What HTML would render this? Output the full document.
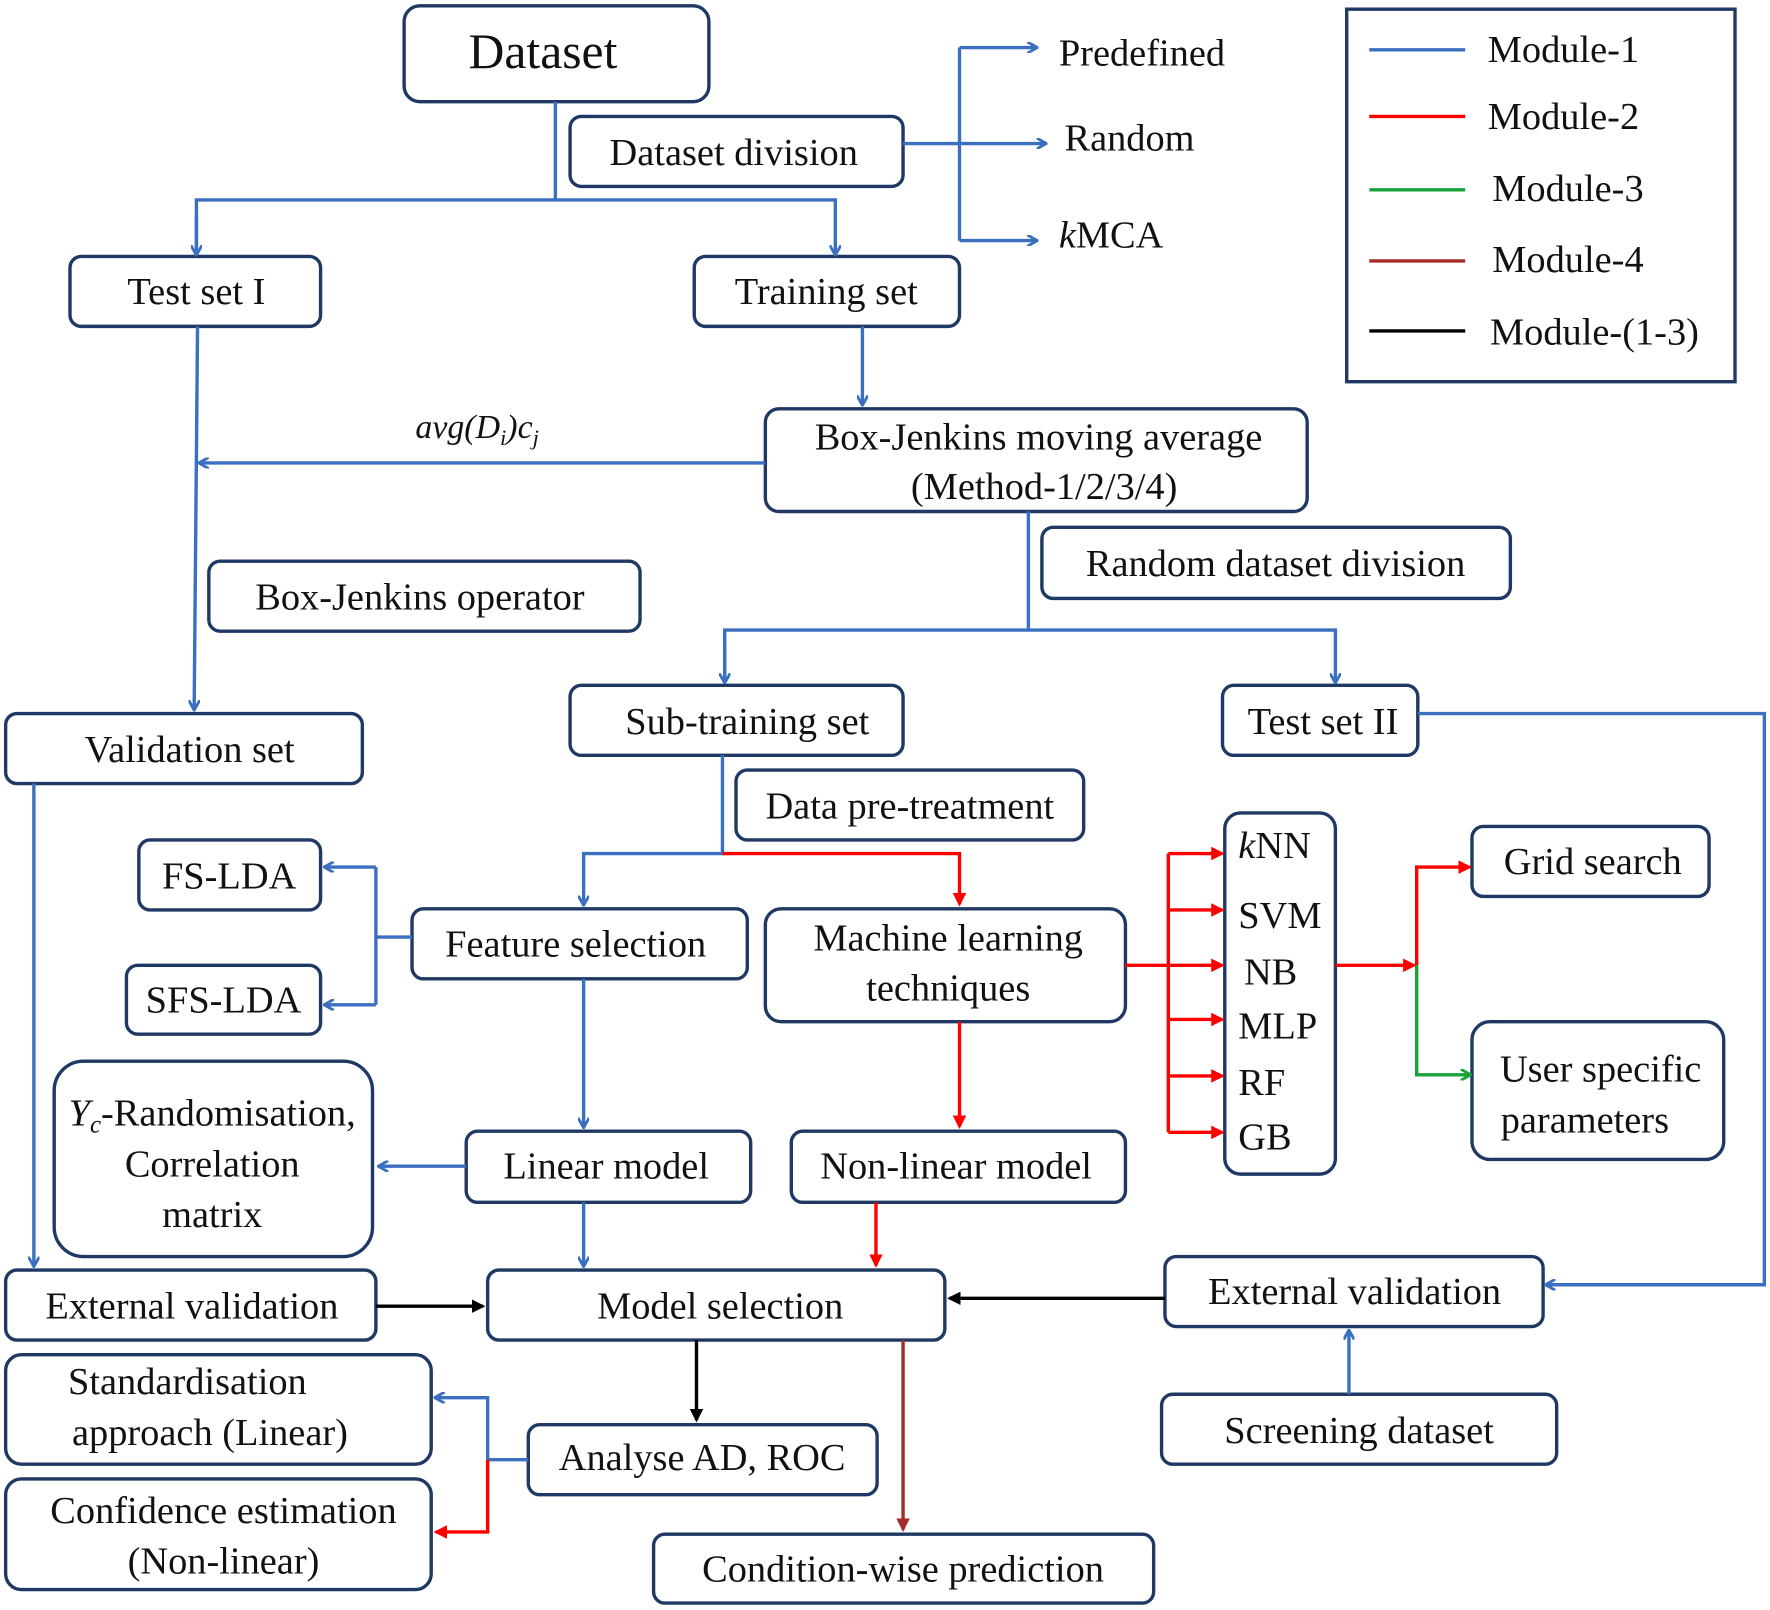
<!DOCTYPE html>
<html><head><meta charset="utf-8"><style>
html,body{margin:0;padding:0;background:#fff;}
svg{display:block;}
text{font-family:"Liberation Serif",serif;fill:#111;}
</style></head><body>
<svg width="1770" height="1610" viewBox="0 0 1568 1426" xmlns="http://www.w3.org/2000/svg">
<defs>
<marker id="ab" markerWidth="10" markerHeight="10" refX="8" refY="5" orient="auto" markerUnits="userSpaceOnUse"><path d="M0,0 L9,5 L0,10" fill="none" stroke="#3b6fc0" stroke-width="2.5"/></marker>
<marker id="ar" markerWidth="12" markerHeight="12" refX="10" refY="6" orient="auto" markerUnits="userSpaceOnUse"><path d="M0,0 L12,6 L0,12 Z" fill="#f00"/></marker>
<marker id="ag" markerWidth="10" markerHeight="10" refX="8" refY="5" orient="auto" markerUnits="userSpaceOnUse"><path d="M0,0 L9,5 L0,10" fill="none" stroke="#1aa33a" stroke-width="2.5"/></marker>
<marker id="ak" markerWidth="12" markerHeight="12" refX="10" refY="6" orient="auto" markerUnits="userSpaceOnUse"><path d="M0,0 L12,6 L0,12 Z" fill="#000"/></marker>
<marker id="abr" markerWidth="12" markerHeight="12" refX="10" refY="6" orient="auto" markerUnits="userSpaceOnUse"><path d="M0,0 L12,6 L0,12 Z" fill="#a52a2a"/></marker>
</defs>
<g fill="none" stroke="#1f3864" stroke-width="3">
<rect x="358" y="5" width="270" height="85" rx="14"/>
<rect x="505" y="103" width="295" height="62" rx="10"/>
<rect x="1193" y="8" width="344" height="330"/>
<rect x="62" y="227" width="222" height="62" rx="10"/>
<rect x="615" y="227" width="235" height="62" rx="10"/>
<rect x="678" y="362" width="480" height="91" rx="12"/>
<rect x="185" y="497" width="382" height="62" rx="10"/>
<rect x="5" y="632" width="316" height="62" rx="10"/>
<rect x="923" y="467" width="415" height="63" rx="10"/>
<rect x="505" y="607" width="295" height="62" rx="10"/>
<rect x="1083" y="607" width="173" height="62" rx="10"/>
<rect x="652" y="682" width="308" height="62" rx="10"/>
<rect x="365" y="805" width="297" height="62" rx="10"/>
<rect x="123" y="744" width="161" height="62" rx="10"/>
<rect x="112" y="855" width="172" height="61" rx="10"/>
<rect x="678" y="805" width="319" height="100" rx="14"/>
<rect x="1085" y="720" width="98" height="320" rx="14"/>
<rect x="1304" y="732" width="210" height="62" rx="10"/>
<rect x="1304" y="905" width="223" height="122" rx="16"/>
<rect x="413" y="1002" width="252" height="63" rx="10"/>
<rect x="48" y="940" width="282" height="173" rx="26"/>
<rect x="701" y="1002" width="296" height="63" rx="10"/>
<rect x="432" y="1125" width="405" height="62" rx="10"/>
<rect x="5" y="1125" width="328" height="62" rx="10"/>
<rect x="1032" y="1113" width="335" height="62" rx="10"/>
<rect x="1029" y="1235" width="350" height="62" rx="10"/>
<rect x="468" y="1262" width="309" height="62" rx="10"/>
<rect x="5" y="1200" width="377" height="97" rx="14"/>
<rect x="5" y="1310" width="377" height="98" rx="14"/>
<rect x="579" y="1359" width="443" height="61" rx="10"/>
</g>
<g fill="none" stroke="#3b6fc0" stroke-width="3">
<line x1="1213" y1="44" x2="1298" y2="44"/>
<polyline points="492,90 492,177"/>
<polyline points="174,225 174,177 740,177 740,225" marker-end="url(#ab)"/>
<line x1="174" y1="190" x2="174" y2="225" marker-end="url(#ab)"/>
<polyline points="850,42 918,42" marker-end="url(#ab)"/>
<line x1="850" y1="42" x2="850" y2="213"/>
<line x1="850" y1="213" x2="918" y2="213" marker-end="url(#ab)"/>
<line x1="800" y1="127" x2="926" y2="127" marker-end="url(#ab)"/>
<line x1="764" y1="289" x2="764" y2="358" marker-end="url(#ab)"/>
<line x1="678" y1="410" x2="177" y2="410" marker-end="url(#ab)"/>
<line x1="175" y1="289" x2="172" y2="628" marker-end="url(#ab)"/>
<line x1="911" y1="453" x2="911" y2="558"/>
<polyline points="642,604 642,558 1183,558 1183,604" marker-end="url(#ab)"/>
<line x1="642" y1="570" x2="642" y2="604" marker-end="url(#ab)"/>
<polyline points="1256,632 1563,632 1563,1138 1370,1138" marker-end="url(#ab)"/>
<polyline points="640,669 640,756 517,756 517,801" marker-end="url(#ab)"/>
<line x1="365" y1="830" x2="333" y2="830"/>
<polyline points="333,768 333,890"/>
<line x1="333" y1="768" x2="288" y2="768" marker-end="url(#ab)"/>
<line x1="333" y1="890" x2="288" y2="890" marker-end="url(#ab)"/>
<line x1="517" y1="867" x2="517" y2="998" marker-end="url(#ab)"/>
<line x1="413" y1="1033" x2="336" y2="1033" marker-end="url(#ab)"/>
<line x1="517" y1="1065" x2="517" y2="1121" marker-end="url(#ab)"/>
<line x1="30" y1="694" x2="30" y2="1121" marker-end="url(#ab)"/>
<line x1="1195" y1="1235" x2="1195" y2="1179" marker-end="url(#ab)"/>
<polyline points="468,1293 432,1293 432,1238 386,1238" marker-end="url(#ab)"/>
</g>
<g fill="none" stroke="#f00" stroke-width="3">
<line x1="1213" y1="103" x2="1298" y2="103"/>
<polyline points="640,756 850,756 850,801" marker-end="url(#ar)"/>
<line x1="997" y1="855" x2="1035" y2="855"/>
<line x1="1035" y1="756" x2="1035" y2="1003"/>
<line x1="1035" y1="756" x2="1083" y2="756" marker-end="url(#ar)"/>
<line x1="1035" y1="806" x2="1083" y2="806" marker-end="url(#ar)"/>
<line x1="1035" y1="855" x2="1083" y2="855" marker-end="url(#ar)"/>
<line x1="1035" y1="903" x2="1083" y2="903" marker-end="url(#ar)"/>
<line x1="1035" y1="953" x2="1083" y2="953" marker-end="url(#ar)"/>
<line x1="1035" y1="1003" x2="1083" y2="1003" marker-end="url(#ar)"/>
<line x1="1183" y1="855" x2="1253" y2="855" marker-end="url(#ar)"/>
<polyline points="1255,855 1255,768 1302,768" marker-end="url(#ar)"/>
<line x1="850" y1="905" x2="850" y2="998" marker-end="url(#ar)"/>
<line x1="776" y1="1065" x2="776" y2="1121" marker-end="url(#ar)"/>
<polyline points="432,1293 432,1357 386,1357" marker-end="url(#ar)"/>
</g>
<g fill="none" stroke="#1aa33a" stroke-width="3">
<line x1="1213" y1="168" x2="1298" y2="168"/>
<polyline points="1255,855 1255,952 1302,952" marker-end="url(#ag)"/>
</g>
<g fill="none" stroke="#a52a2a" stroke-width="3">
<line x1="1213" y1="231" x2="1298" y2="231"/>
<line x1="800" y1="1187" x2="800" y2="1355" marker-end="url(#abr)"/>
</g>
<g fill="none" stroke="#000" stroke-width="3">
<line x1="1213" y1="293" x2="1298" y2="293"/>
<line x1="333" y1="1157" x2="428" y2="1157" marker-end="url(#ak)"/>
<line x1="1032" y1="1150" x2="841" y2="1150" marker-end="url(#ak)"/>
<line x1="617" y1="1187" x2="617" y2="1258" marker-end="url(#ak)"/>
</g>
<g font-size="34">
<text x="481" y="60" font-size="44" text-anchor="middle">Dataset</text>
<text x="650" y="146" text-anchor="middle">Dataset division</text>
<text x="938" y="58">Predefined</text>
<text x="943" y="133">Random</text>
<text x="938" y="219"><tspan font-style="italic">k</tspan>MCA</text>
<text x="1318" y="55">Module-1</text>
<text x="1318" y="114">Module-2</text>
<text x="1322" y="178">Module-3</text>
<text x="1322" y="241">Module-4</text>
<text x="1320" y="305">Module-(1-3)</text>
<text x="174" y="269" text-anchor="middle">Test set I</text>
<text x="732" y="269" text-anchor="middle">Training set</text>
<text x="920" y="398" text-anchor="middle">Box-Jenkins moving average</text>
<text x="925" y="442" text-anchor="middle">(Method-1/2/3/4)</text>
<text x="368" y="388" font-size="30" font-style="italic">avg(D<tspan font-size="20" dy="6">i</tspan><tspan dy="-6">)c</tspan><tspan font-size="20" dy="6">j</tspan></text>
<text x="372" y="540" text-anchor="middle">Box-Jenkins operator</text>
<text x="168" y="675" text-anchor="middle">Validation set</text>
<text x="1130" y="510" text-anchor="middle">Random dataset division</text>
<text x="662" y="650" text-anchor="middle">Sub-training set</text>
<text x="1172" y="650" text-anchor="middle">Test set II</text>
<text x="806" y="725" text-anchor="middle">Data pre-treatment</text>
<text x="510" y="847" text-anchor="middle">Feature selection</text>
<text x="203" y="787" text-anchor="middle">FS-LDA</text>
<text x="198" y="897" text-anchor="middle">SFS-LDA</text>
<text x="840" y="842" text-anchor="middle">Machine learning</text>
<text x="840" y="886" text-anchor="middle">techniques</text>
<text x="1097" y="760"><tspan font-style="italic">k</tspan>NN</text>
<text x="1097" y="822">SVM</text>
<text x="1102" y="872">NB</text>
<text x="1097" y="920">MLP</text>
<text x="1097" y="970">RF</text>
<text x="1097" y="1018">GB</text>
<text x="1411" y="774" text-anchor="middle">Grid search</text>
<text x="1418" y="958" text-anchor="middle">User specific</text>
<text x="1404" y="1003" text-anchor="middle">parameters</text>
<text x="537" y="1044" text-anchor="middle">Linear model</text>
<text x="847" y="1044" text-anchor="middle">Non-linear model</text>
<text x="188" y="997" text-anchor="middle"><tspan font-style="italic">Y</tspan><tspan font-size="22" font-style="italic" dy="6">c</tspan><tspan dy="-6">-Randomisation,</tspan></text>
<text x="188" y="1042" text-anchor="middle">Correlation</text>
<text x="188" y="1087" text-anchor="middle">matrix</text>
<text x="638" y="1168" text-anchor="middle">Model selection</text>
<text x="170" y="1168" text-anchor="middle">External validation</text>
<text x="1200" y="1155" text-anchor="middle">External validation</text>
<text x="1204" y="1278" text-anchor="middle">Screening dataset</text>
<text x="622" y="1302" text-anchor="middle">Analyse AD, ROC</text>
<text x="166" y="1235" text-anchor="middle">Standardisation</text>
<text x="186" y="1280" text-anchor="middle">approach (Linear)</text>
<text x="198" y="1349" text-anchor="middle">Confidence estimation</text>
<text x="198" y="1394" text-anchor="middle">(Non-linear)</text>
<text x="800" y="1401" text-anchor="middle">Condition-wise prediction</text>
</g>
</svg>
</body></html>
